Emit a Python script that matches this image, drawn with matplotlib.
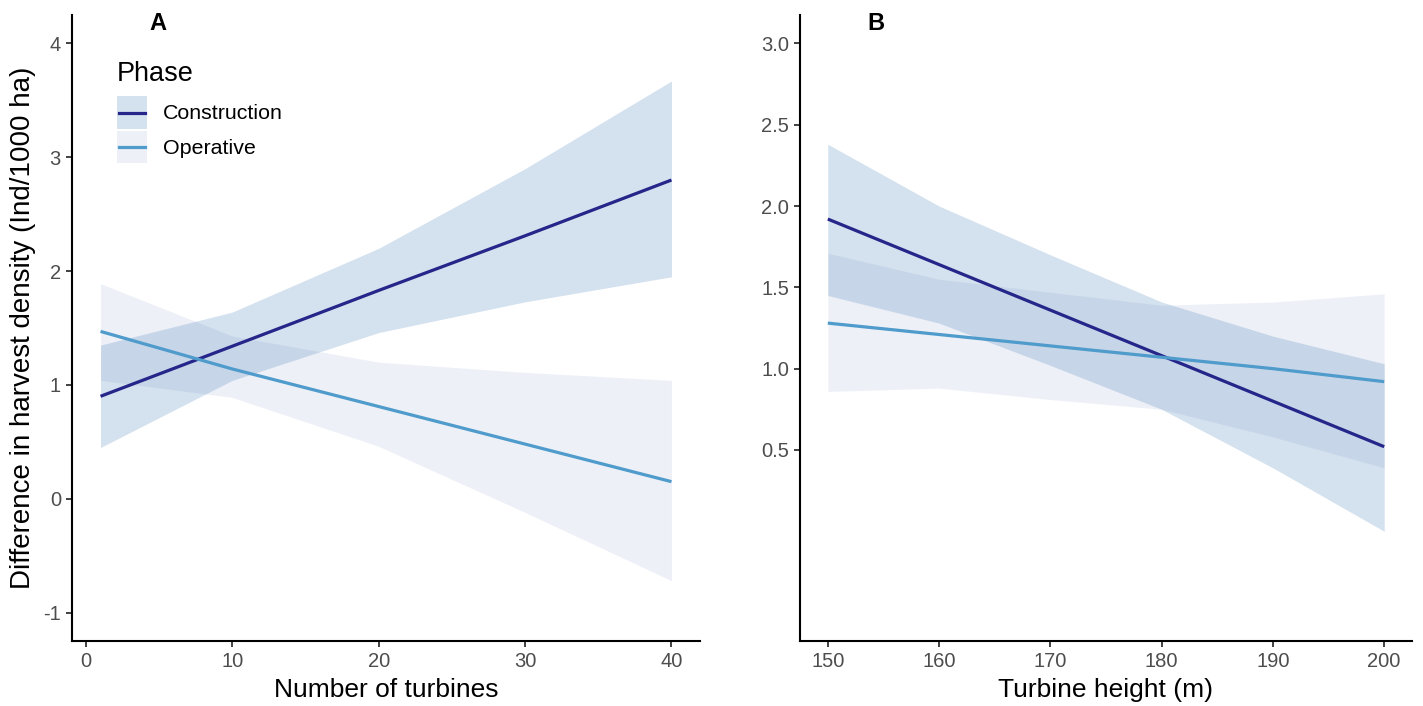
import matplotlib
matplotlib.use("Agg")
import matplotlib.pyplot as plt
from matplotlib.patches import Patch, Rectangle
from matplotlib.lines import Line2D
from matplotlib.legend_handler import HandlerBase

plt.rcParams['font.family'] = ['Liberation Sans', 'DejaVu Sans']
plt.rcParams['axes.unicode_minus'] = False

# ---- data ----
phases = ["Construction", "Operative"]

turbines_x = [1, 10, 20, 30, 40]
constr_fit_A = [0.90, 1.34, 1.83, 2.31, 2.80]
constr_lo_A = [0.45, 1.04, 1.46, 1.73, 1.95]
constr_hi_A = [1.35, 1.64, 2.20, 2.90, 3.67]
oper_fit_A = [1.47, 1.14, 0.81, 0.48, 0.15]
oper_lo_A = [1.04, 0.89, 0.46, -0.12, -0.72]
oper_hi_A = [1.89, 1.43, 1.20, 1.11, 1.04]

height_x = [150, 160, 170, 180, 190, 200]
constr_fit_B = [1.92, 1.64, 1.36, 1.08, 0.80, 0.52]
constr_lo_B = [1.45, 1.28, 1.02, 0.75, 0.39, 0.00]
constr_hi_B = [2.38, 2.00, 1.70, 1.41, 1.20, 1.03]
oper_fit_B = [1.28, 1.21, 1.14, 1.07, 1.00, 0.92]
oper_lo_B = [0.86, 0.88, 0.81, 0.75, 0.58, 0.39]
oper_hi_B = [1.71, 1.55, 1.47, 1.39, 1.41, 1.46]

xticks_A = [0, 10, 20, 30, 40]
yticks_A = [-1, 0, 1, 2, 3, 4]
xticks_B = [150, 160, 170, 180, 190, 200]
yticks_B = [0.5, 1.0, 1.5, 2.0, 2.5, 3.0]

# ---- styles ----
line_col = {"Construction": "#25258a", "Operative": "#4f9bcc"}
fill_col = {"Construction": "#2869aa", "Operative": "#5573b9"}
fill_alpha = {"Construction": 0.2, "Operative": 0.1}
tick_col = "#4d4d4d"

W, H = 1423, 706
fig = plt.figure(figsize=(W / 100, H / 100), dpi=100)

def axes_px(l, r, t, b):
    return fig.add_axes([l / W, 1 - b / H, (r - l) / W, (b - t) / H])

axA = axes_px(72, 700, 15, 641)
axB = axes_px(800, 1412, 15, 641)

def draw(ax, x, fits, los, his):
    for ph in phases:
        ax.fill_between(x, los[ph], his[ph], color=fill_col[ph],
                        alpha=fill_alpha[ph], linewidth=0)
    for ph in phases:
        ax.plot(x, fits[ph], color=line_col[ph], lw=2.3, solid_capstyle='butt')

draw(axA, turbines_x,
     {"Construction": constr_fit_A, "Operative": oper_fit_A},
     {"Construction": constr_lo_A, "Operative": oper_lo_A},
     {"Construction": constr_hi_A, "Operative": oper_hi_A})
draw(axB, height_x,
     {"Construction": constr_fit_B, "Operative": oper_fit_B},
     {"Construction": constr_lo_B, "Operative": oper_lo_B},
     {"Construction": constr_hi_B, "Operative": oper_hi_B})

def style(ax, xt, yt, xlim, ylim, xlabel, yfmt=None):
    ax.set_xlim(*xlim)
    ax.set_ylim(*ylim)
    ax.set_xticks(xt)
    ax.set_yticks(yt)
    if yfmt:
        ax.set_yticklabels([yfmt.format(v) for v in yt])
    for s in ["top", "right"]:
        ax.spines[s].set_visible(False)
    for s in ["left", "bottom"]:
        ax.spines[s].set_linewidth(1.5)
        ax.spines[s].set_color("black")
    ax.tick_params(axis='both', length=4, width=1.3, color="#333333",
                   labelsize=14.5, labelcolor=tick_col, pad=4)
    ax.set_xlabel(xlabel, fontsize=19, labelpad=5, color="black")

style(axA, xticks_A, yticks_A, (-0.95, 41.95), (-1.25, 4.25), "Number of turbines")
style(axB, xticks_B, yticks_B, (147.5, 202.5), (-0.675, 3.175), "Turbine height (m)", "{:.1f}")
axA.set_ylabel("Difference in harvest density (Ind/1000 ha)", fontsize=20, labelpad=5)

fig.text(158 / W, 1 - 23 / H, "A", fontsize=17, fontweight="bold", ha="center", va="center")
fig.text(876 / W, 1 - 23 / H, "B", fontsize=17, fontweight="bold", ha="center", va="center")


class KeyHandler(HandlerBase):
    def __init__(self, ph):
        super().__init__()
        self.ph = ph

    def create_artists(self, legend, orig_handle, xdescent, ydescent,
                       width, height, fontsize, trans):
        rect = Rectangle((-xdescent, -ydescent), width, height,
                         facecolor=fill_col[self.ph], alpha=fill_alpha[self.ph],
                         linewidth=0, transform=trans)
        yc = -ydescent + height / 2
        ln = Line2D([-xdescent + 0.06 * width, -xdescent + 0.94 * width], [yc, yc],
                    color=line_col[self.ph], lw=2.3, transform=trans)
        return [rect, ln]


handles = [Patch(label=ph) for ph in phases]
leg = axA.legend(handles, phases,
                 handler_map={h: KeyHandler(ph) for h, ph in zip(handles, phases)},
                 title="Phase", loc="upper left", bbox_to_anchor=(0.0717, 0.927),
                 frameon=False, fontsize=15.4, title_fontsize=19.5,
                 handlelength=1.4, handleheight=1.95, labelspacing=0.1,
                 handletextpad=0.75, borderpad=0.0, borderaxespad=0.0)
leg._legend_box.align = "left"
leg._legend_box.sep = 7

fig.savefig("out.png", dpi=100)
